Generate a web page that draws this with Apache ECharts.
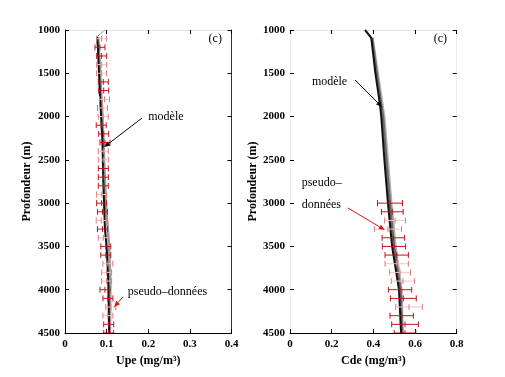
<!DOCTYPE html>
<html>
<head>
<meta charset="utf-8">
<script src="https://cdn.jsdelivr.net/npm/echarts@6/dist/echarts.min.js"></script>
<style>
  html, body { margin: 0; padding: 0; background: #fff; }
  #chart { width: 505px; height: 377px; }
</style>
</head>
<body>
<div id="chart"></div>
<script>
// profondeurs (m) et valeurs

// panneau gauche : Upe
var upeModelDepth = [1080, 1200, 1750, 2300, 2750, 3300, 3500, 3900, 4500];
var upeModel      = [0.077, 0.079, 0.084, 0.090, 0.092, 0.096, 0.100, 0.104, 0.106];
var upeEdgeDepth  = [1080, 2000, 3000, 3500, 3900, 4500];
var upeEdge       = [0.080, 0.090, 0.098, 0.106, 0.109, 0.108];
var upeTopDepth   = [1000, 1080];
var upeTop        = [0.095, 0.077];

var upeDataDepth = [1200, 1300, 1600, 1700, 2100, 2200, 2300, 2600, 2700, 2800, 3000, 3100, 3300, 3500, 3600, 4000, 4100, 4400, 4500];
var upeData      = [0.084, 0.088, 0.092, 0.093, 0.087, 0.093, 0.096, 0.092, 0.092, 0.092, 0.088, 0.090, 0.090, 0.098, 0.098, 0.096, 0.103, 0.105, 0.105];
var upeErr       = [0.012, 0.012, 0.012, 0.012, 0.012, 0.012, 0.012, 0.012, 0.012, 0.012, 0.012, 0.012, 0.012, 0.012, 0.012, 0.012, 0.012, 0.012, 0.012];
var upeFaintDepth = [1100, 1400, 1500, 1800, 1900, 2000, 2400, 2500, 2900, 3200, 3400, 3700, 3800, 3900, 4200, 4300];
var upeFaint      = [0.088, 0.088, 0.088, 0.095, 0.090, 0.092, 0.092, 0.092, 0.088, 0.087, 0.092, 0.103, 0.100, 0.100, 0.110, 0.103];
var upeFaintErr   = [0.012, 0.012, 0.012, 0.012, 0.012, 0.012, 0.012, 0.012, 0.012, 0.012, 0.012, 0.012, 0.012, 0.012, 0.012, 0.012];

// panneau droit : Cde
var cdeModelDepth = [1000, 1090, 1500, 1866, 2000, 2500, 2733, 3000, 3500, 4000, 4500];
var cdeModel      = [0.360, 0.390, 0.410, 0.432, 0.438, 0.453, 0.461, 0.470, 0.490, 0.523, 0.533];
var cdeBandDepth  = [1090, 1500, 2000, 2500, 3000, 3500, 4000, 4500];
var cdeMid        = [0.394, 0.416, 0.446, 0.462, 0.479, 0.499, 0.530, 0.538];
var cdeEdge       = [0.396, 0.421, 0.452, 0.469, 0.486, 0.506, 0.535, 0.540];

var cdeDataDepth = [3000, 3100, 3400, 3500, 3600, 4000, 4100, 4300, 4400, 4500];
var cdeData      = [0.480, 0.491, 0.496, 0.499, 0.512, 0.528, 0.544, 0.536, 0.552, 0.552];
var cdeErr       = [0.060, 0.052, 0.054, 0.056, 0.056, 0.056, 0.062, 0.056, 0.064, 0.052];
var cdeFaintDepth = [3200, 3300, 3700, 3800, 3900, 4200];
var cdeFaint      = [0.504, 0.470, 0.512, 0.528, 0.542, 0.571];
var cdeFaintErr   = [0.050, 0.065, 0.056, 0.050, 0.056, 0.064];

function pairs(xs, ys) {
    return xs.map(function(x, i) { return [x, ys[i]]; });
}
function triples(xs, ys, es) {
    return xs.map(function(x, i) { return [x, ys[i], es[i]]; });
}

var serif = '"Liberation Serif", "DejaVu Serif", serif';

function errBars(xi, yi, data, barColor, capColor) {
    return {
        type: 'custom',
        xAxisIndex: xi,
        yAxisIndex: yi,
        data: data,
        clip: true,
        z: 5,
        renderItem: function(params, api) {
            var x = api.value(0), y = api.value(1), e = api.value(2);
            var p = api.coord([x, y]);
            var l = api.coord([x - e, y]);
            var r = api.coord([x + e, y]);
            var s = { stroke: barColor, lineWidth: 1 };
            var sc = { stroke: capColor, lineWidth: 1 };
            return {
                type: 'group',
                children: [
                    { type: 'line', shape: { x1: l[0], y1: p[1], x2: r[0], y2: p[1] }, style: s },
                    { type: 'line', shape: { x1: l[0], y1: p[1] - 3, x2: l[0], y2: p[1] + 3 }, style: sc },
                    { type: 'line', shape: { x1: r[0], y1: p[1] - 3, x2: r[0], y2: p[1] + 3 }, style: sc },
                    { type: 'line', shape: { x1: p[0], y1: p[1] - 3, x2: p[0], y2: p[1] + 3 }, style: sc }
                ]
            };
        }
    };
}

function line(xi, yi, data, color, width, dash, z) {
    return {
        type: 'line',
        xAxisIndex: xi,
        yAxisIndex: yi,
        data: data,
        showSymbol: false,
        symbol: 'none',
        smooth: false,
        z: z || 3,
        lineStyle: { color: color, width: width, type: dash || 'solid' }
    };
}

function xAx(grid, max, interval, top, lineColor) {
    return {
        type: 'value',
        gridIndex: grid,
        position: top ? 'top' : 'bottom',
        min: 0,
        max: max,
        interval: interval,
        name: top ? '' : (grid === 0 ? 'Upe (mg/m³)' : 'Cde (mg/m³)'),
        nameLocation: 'middle',
        nameGap: 20,
        nameTextStyle: { fontFamily: serif, fontSize: 12, fontWeight: 'bold', color: '#000' },
        axisLine: { show: true, onZero: false, lineStyle: { color: lineColor, width: 1 } },
        axisTick: { show: true, inside: true, length: 4, lineStyle: { color: '#000' } },
        axisLabel: {
            show: !top,
            margin: 6,
            fontFamily: serif, fontSize: 11, fontWeight: 'bold', color: '#000',
            formatter: function(v) { return v === 0 ? '0' : v.toFixed(1); }
        },
        splitLine: { show: false }
    };
}

function yAx(grid, right, lineColor) {
    return {
        type: 'value',
        gridIndex: grid,
        position: right ? 'right' : 'left',
        inverse: true,
        min: 1000,
        max: 4500,
        interval: 500,
        name: right ? '' : 'Profondeur (m)',
        nameLocation: 'middle',
        nameGap: grid === 0 ? 32 : 30,
        nameTextStyle: { fontFamily: serif, fontSize: 12, fontWeight: 'bold', color: '#000' },
        axisLine: { show: true, onZero: false, lineStyle: { color: lineColor, width: 1 } },
        axisTick: { show: true, inside: true, length: 4, lineStyle: { color: '#000' } },
        axisLabel: {
            show: !right,
            margin: 5,
            fontFamily: serif, fontSize: 11, fontWeight: 'bold', color: '#000',
            formatter: function(v) { return String(v); }
        },
        splitLine: { show: false }
    };
}

var chart = echarts.init(document.getElementById('chart'), null, { renderer: 'canvas' });

var option = {
    backgroundColor: '#fff',
    animation: false,
    grid: [
        { left: 65, top: 30, width: 166.5, height: 303 },
        { left: 290, top: 30, width: 166.7, height: 303 }
    ],
    xAxis: [
        xAx(0, 0.4, 0.1, false, '#000'),
        xAx(0, 0.4, 0.1, true, '#e4e4e4'),
        xAx(1, 0.8, 0.2, false, '#000'),
        xAx(1, 0.8, 0.2, true, '#e4e4e4')
    ],
    yAxis: [
        yAx(0, false, '#000'),
        yAx(0, true, '#333'),
        yAx(1, false, '#eeeeee'),
        yAx(1, true, '#eeeeee')
    ],
    series: [
        // gauche
        line(0, 0, pairs(upeEdge, upeEdgeDepth), '#9a9a9a', 2.5, 'solid', 2),
        line(0, 0, pairs(upeModel, upeModelDepth), '#111', 2, 'solid', 3),
        line(0, 0, pairs(upeTop, upeTopDepth), '#333', 1, 'dotted', 3),
        errBars(0, 0, triples(upeFaint, upeFaintDepth, upeFaintErr), '#f6c4c4', '#e07a7a'),
        errBars(0, 0, triples(upeData, upeDataDepth, upeErr), '#c0141c', '#c0141c'),
        // droite
        line(2, 2, pairs(cdeEdge, cdeBandDepth), '#b0b0b0', 2.5, 'solid', 2),
        line(2, 2, pairs(cdeMid, cdeBandDepth), '#6a6a6a', 2.5, 'solid', 2),
        line(2, 2, pairs(cdeModel, cdeModelDepth), '#111', 2, 'solid', 3),
        errBars(2, 2, triples(cdeFaint, cdeFaintDepth, cdeFaintErr), '#f6c4c4', '#e07a7a'),
        errBars(2, 2, triples(cdeData, cdeDataDepth, cdeErr), '#c0141c', '#c0141c')
    ]
};
chart.setOption(option);

// annotations (positions en coordonnées des données)
function px(panel, pt) {
    var ax = panel === 0 ? 0 : 2;
    return chart.convertToPixel({ xAxisIndex: ax, yAxisIndex: ax }, pt);
}
function arrow(panel, from, to, color) {
    var a = px(panel, from), b = px(panel, to);
    var ang = Math.atan2(b[1] - a[1], b[0] - a[0]);
    var len = 6, w = 2.5;
    var bx = b[0] - len * Math.cos(ang), by = b[1] - len * Math.sin(ang);
    var nx = -Math.sin(ang) * w, ny = Math.cos(ang) * w;
    return [
        { type: 'line', silent: true, z: 10, shape: { x1: a[0], y1: a[1], x2: bx, y2: by }, style: { stroke: color, lineWidth: 1 } },
        { type: 'polygon', silent: true, z: 10, shape: { points: [[b[0], b[1]], [bx + nx, by + ny], [bx - nx, by - ny]] }, style: { fill: color } }
    ];
}
function label(panel, pt, str) {
    var p = px(panel, pt);
    return {
        type: 'text', silent: true, z: 10, x: p[0], y: p[1],
        style: { text: str, fontFamily: serif, fontSize: 12, fill: '#000', verticalAlign: 'middle', align: 'left' }
    };
}

var g = [];
g.push(label(0, [0.2, 2005], 'modèle'));
g = g.concat(arrow(0, [0.185, 2017], [0.094, 2352], '#000'));
g.push(label(0, [0.151, 4026], 'pseudo–données'));
g = g.concat(arrow(0, [0.139, 4084], [0.118, 4200], '#e01010'));
g.push(label(0, [0.345, 1100], '(c)'));

g.push(label(1, [0.105, 1597], 'modèle'));
g = g.concat(arrow(1, [0.312, 1577], [0.442, 1890], '#000'));
g.push(label(1, [0.056, 2771], 'pseudo–'));
g.push(label(1, [0.056, 3021], 'données'));
g = g.concat(arrow(1, [0.278, 3056], [0.455, 3310], '#e01010'));
g.push(label(1, [0.69, 1100], '(c)'));

chart.setOption({ graphic: g });
</script>
</body>
</html>
